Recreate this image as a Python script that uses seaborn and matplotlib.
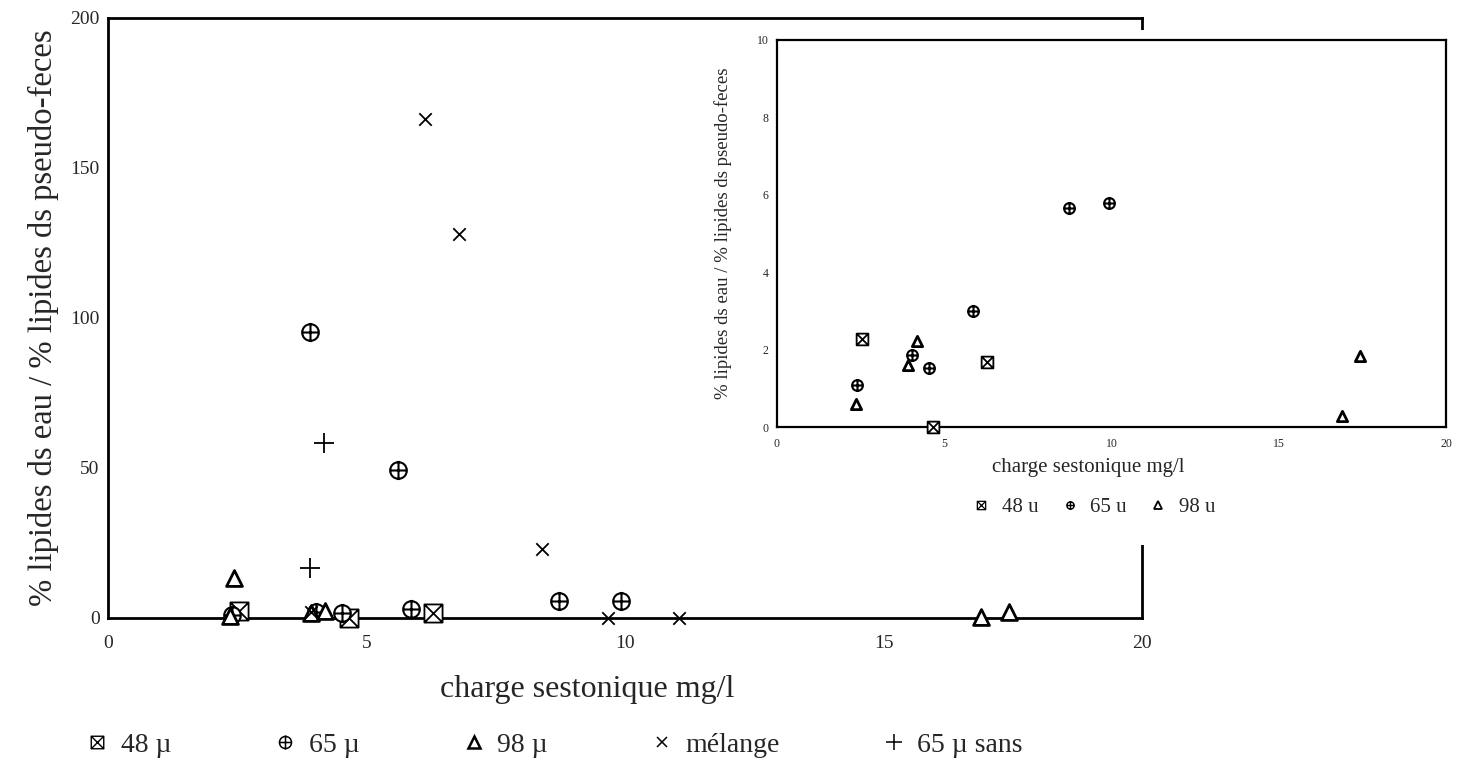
import numpy as np
import pandas as pd
import matplotlib
matplotlib.use("Agg")
import matplotlib.pyplot as plt
from matplotlib.path import Path
from matplotlib.patches import Rectangle
from matplotlib.lines import Line2D
import seaborn as sns

# ---------------- data ----------------
x48 = [2.53, 4.67, 6.29]
y48 = [2.28, 0.00, 1.68]
x65 = [2.40, 3.90, 4.03, 4.53, 5.60, 5.87, 8.72, 9.92]
y65 = [1.09, 95.5, 1.87, 1.52, 49.5, 3.00, 5.67, 5.78]
x98 = [2.36, 2.43, 3.93, 4.19, 16.89, 17.43]
y98 = [0.60, 13.5, 1.61, 2.21, 0.29, 1.84]
xmel = [3.92, 6.14, 6.78, 8.39, 9.67, 11.04]
ymel = [2.0, 166.5, 128.0, 23.0, 0.0, 0.0]
x65s = [3.91, 4.17]
y65s = [16.8, 58.5]

main_labels = ["48 µ", "65 µ", "98 µ", "mélange", "65 µ sans"]
inset_labels = ["48 u", "65 u", "98 u"]
xticks = [0, 5, 10, 15, 20]
yticks_main = [0, 50, 100, 150, 200]
yticks_inset = [0, 2, 4, 6, 8, 10]
xlabel = "charge sestonique mg/l"
ylabel = "% lipides ds eau / % lipides ds pseudo-feces"
INSET_MAX = 10

# ---------------- style ----------------
sns.set_style("white")
plt.rcParams["font.family"] = ["Liberation Serif", "DejaVu Serif"]


def boxtimes():
    sq = Path([(-1, -1), (1, -1), (1, 1), (-1, 1), (-1, -1)],
              [Path.MOVETO, Path.LINETO, Path.LINETO, Path.LINETO, Path.CLOSEPOLY])
    d1 = Path([(-1, -1), (1, 1)], [Path.MOVETO, Path.LINETO])
    d2 = Path([(-1, 1), (1, -1)], [Path.MOVETO, Path.LINETO])
    return Path.make_compound_path(sq, d1, d2)


def oplus():
    c = Path.unit_circle()
    h = Path([(-1, 0), (1, 0)], [Path.MOVETO, Path.LINETO])
    v = Path([(0, -1.15), (0, 1.15)], [Path.MOVETO, Path.LINETO])
    return Path.make_compound_path(c, h, v)


M48, M65 = boxtimes(), oplus()

W, H = 1471, 769
fig = plt.figure(figsize=(W / 100, H / 100), dpi=100)
fig.patch.set_facecolor("white")


def px_axes(l, t, r, b):
    return [l / W, 1 - b / H, (r - l) / W, (b - t) / H]


ax = fig.add_axes(px_axes(108, 18, 1142, 618))


def draw_series(a, scale, filt=None):
    def f(xs, ys):
        if filt is None:
            return list(xs), list(ys)
        pairs = [(x, y) for x, y in zip(xs, ys) if y <= filt]
        return [p[0] for p in pairs], [p[1] for p in pairs]
    xs, ys = f(x48, y48)
    sns.scatterplot(x=xs, y=ys, marker=M48, s=170 * scale, facecolor="white",
                    edgecolor="black", linewidth=1.3, ax=a, legend=False,
                    clip_on=False, zorder=3)
    xs, ys = f(x65, y65)
    sns.scatterplot(x=xs, y=ys, marker=M65, s=190 * scale, facecolor="white",
                    edgecolor="black", linewidth=1.5, ax=a, legend=False,
                    clip_on=False, zorder=3)
    xs, ys = f(x98, y98)
    sns.scatterplot(x=xs, y=ys, marker="^", s=130 * scale, facecolor="white",
                    edgecolor="black", linewidth=2.0, ax=a, legend=False,
                    clip_on=False, zorder=3)


draw_series(ax, 1.0)
sns.scatterplot(x=xmel, y=ymel, marker="x", s=80, color="black", linewidth=1.3,
                ax=ax, legend=False, clip_on=False, zorder=3)
sns.scatterplot(x=x65s, y=y65s, marker="+", s=200, color="black", linewidth=1.3,
                ax=ax, legend=False, clip_on=False, zorder=3)

ax.set_xlim(0, 20)
ax.set_ylim(0, 200)
ax.set_xticks(xticks)
ax.set_yticks(yticks_main)
ax.set_xticklabels([str(v) for v in xticks])
ax.set_yticklabels([str(v) for v in yticks_main])
ax.tick_params(axis="x", direction="in", length=6, width=1.0, labelsize=14, pad=12)
ax.tick_params(axis="y", direction="in", length=12, width=1.2, labelsize=14, pad=6)
for sp in ax.spines.values():
    sp.set_linewidth(2.0)
    sp.set_color("black")
ax.set_xlabel(xlabel, fontsize=23)
ax.xaxis.set_label_coords(0.463, -0.095)
ax.set_ylabel(ylabel, fontsize=23.5, labelpad=8)

# main legend
h_main = [
    Line2D([], [], ls="none", marker=M48, ms=9, mfc="white", mec="black", mew=1.0),
    Line2D([], [], ls="none", marker=M65, ms=10, mfc="white", mec="black", mew=1.1),
    Line2D([], [], ls="none", marker="^", ms=8, mfc="white", mec="black", mew=1.8),
    Line2D([], [], ls="none", marker="x", ms=7, color="black", mew=1.1),
    Line2D([], [], ls="none", marker="+", ms=11, color="black", mew=1.1),
]
fig.legend(h_main, main_labels, loc="center", ncol=5, frameon=False,
           bbox_to_anchor=(553 / W, 1 - 745 / H), fontsize=20,
           columnspacing=3.6, handlelength=1.0, handletextpad=0.35)

# cover part of main right spine behind inset texts
fig.add_artist(Rectangle((1120 / W, 1 - 545 / H), 45 / W, (545 - 30) / H,
                         transform=fig.transFigure, facecolor="white",
                         edgecolor="none", zorder=1))

# ---------------- inset ----------------
axi = fig.add_axes(px_axes(777, 40, 1446, 427))
axi.set_zorder(2)
axi.set_facecolor("white")
draw_series(axi, 0.42, filt=INSET_MAX)
axi.set_xlim(0, 20)
axi.set_ylim(0, 10)
axi.set_xticks(xticks)
axi.set_yticks(yticks_inset)
axi.set_xticklabels([str(v) for v in xticks])
axi.set_yticklabels([str(v) for v in yticks_inset])
axi.tick_params(axis="x", direction="in", length=3, width=0.8, labelsize=8.5, pad=8)
axi.tick_params(axis="y", direction="in", length=7, width=1.0, labelsize=8.5, pad=6)
for sp in axi.spines.values():
    sp.set_linewidth(1.6)
    sp.set_color("black")
axi.set_xlabel(xlabel, fontsize=15)
axi.xaxis.set_label_coords(0.465, -0.08)
axi.set_ylabel(ylabel, fontsize=13.5, labelpad=18)

h_in = [
    Line2D([], [], ls="none", marker=M48, ms=6, mfc="white", mec="black", mew=0.9),
    Line2D([], [], ls="none", marker=M65, ms=6, mfc="white", mec="black", mew=1.0),
    Line2D([], [], ls="none", marker="^", ms=5.5, mfc="white", mec="black", mew=1.3),
]
fig.legend(h_in, inset_labels, loc="center", ncol=3, frameon=False,
           bbox_to_anchor=(1093 / W, 1 - 507 / H), fontsize=15,
           columnspacing=1.0, handlelength=1.0, handletextpad=0.5)

fig.savefig("out.png", dpi=100, facecolor="white")
